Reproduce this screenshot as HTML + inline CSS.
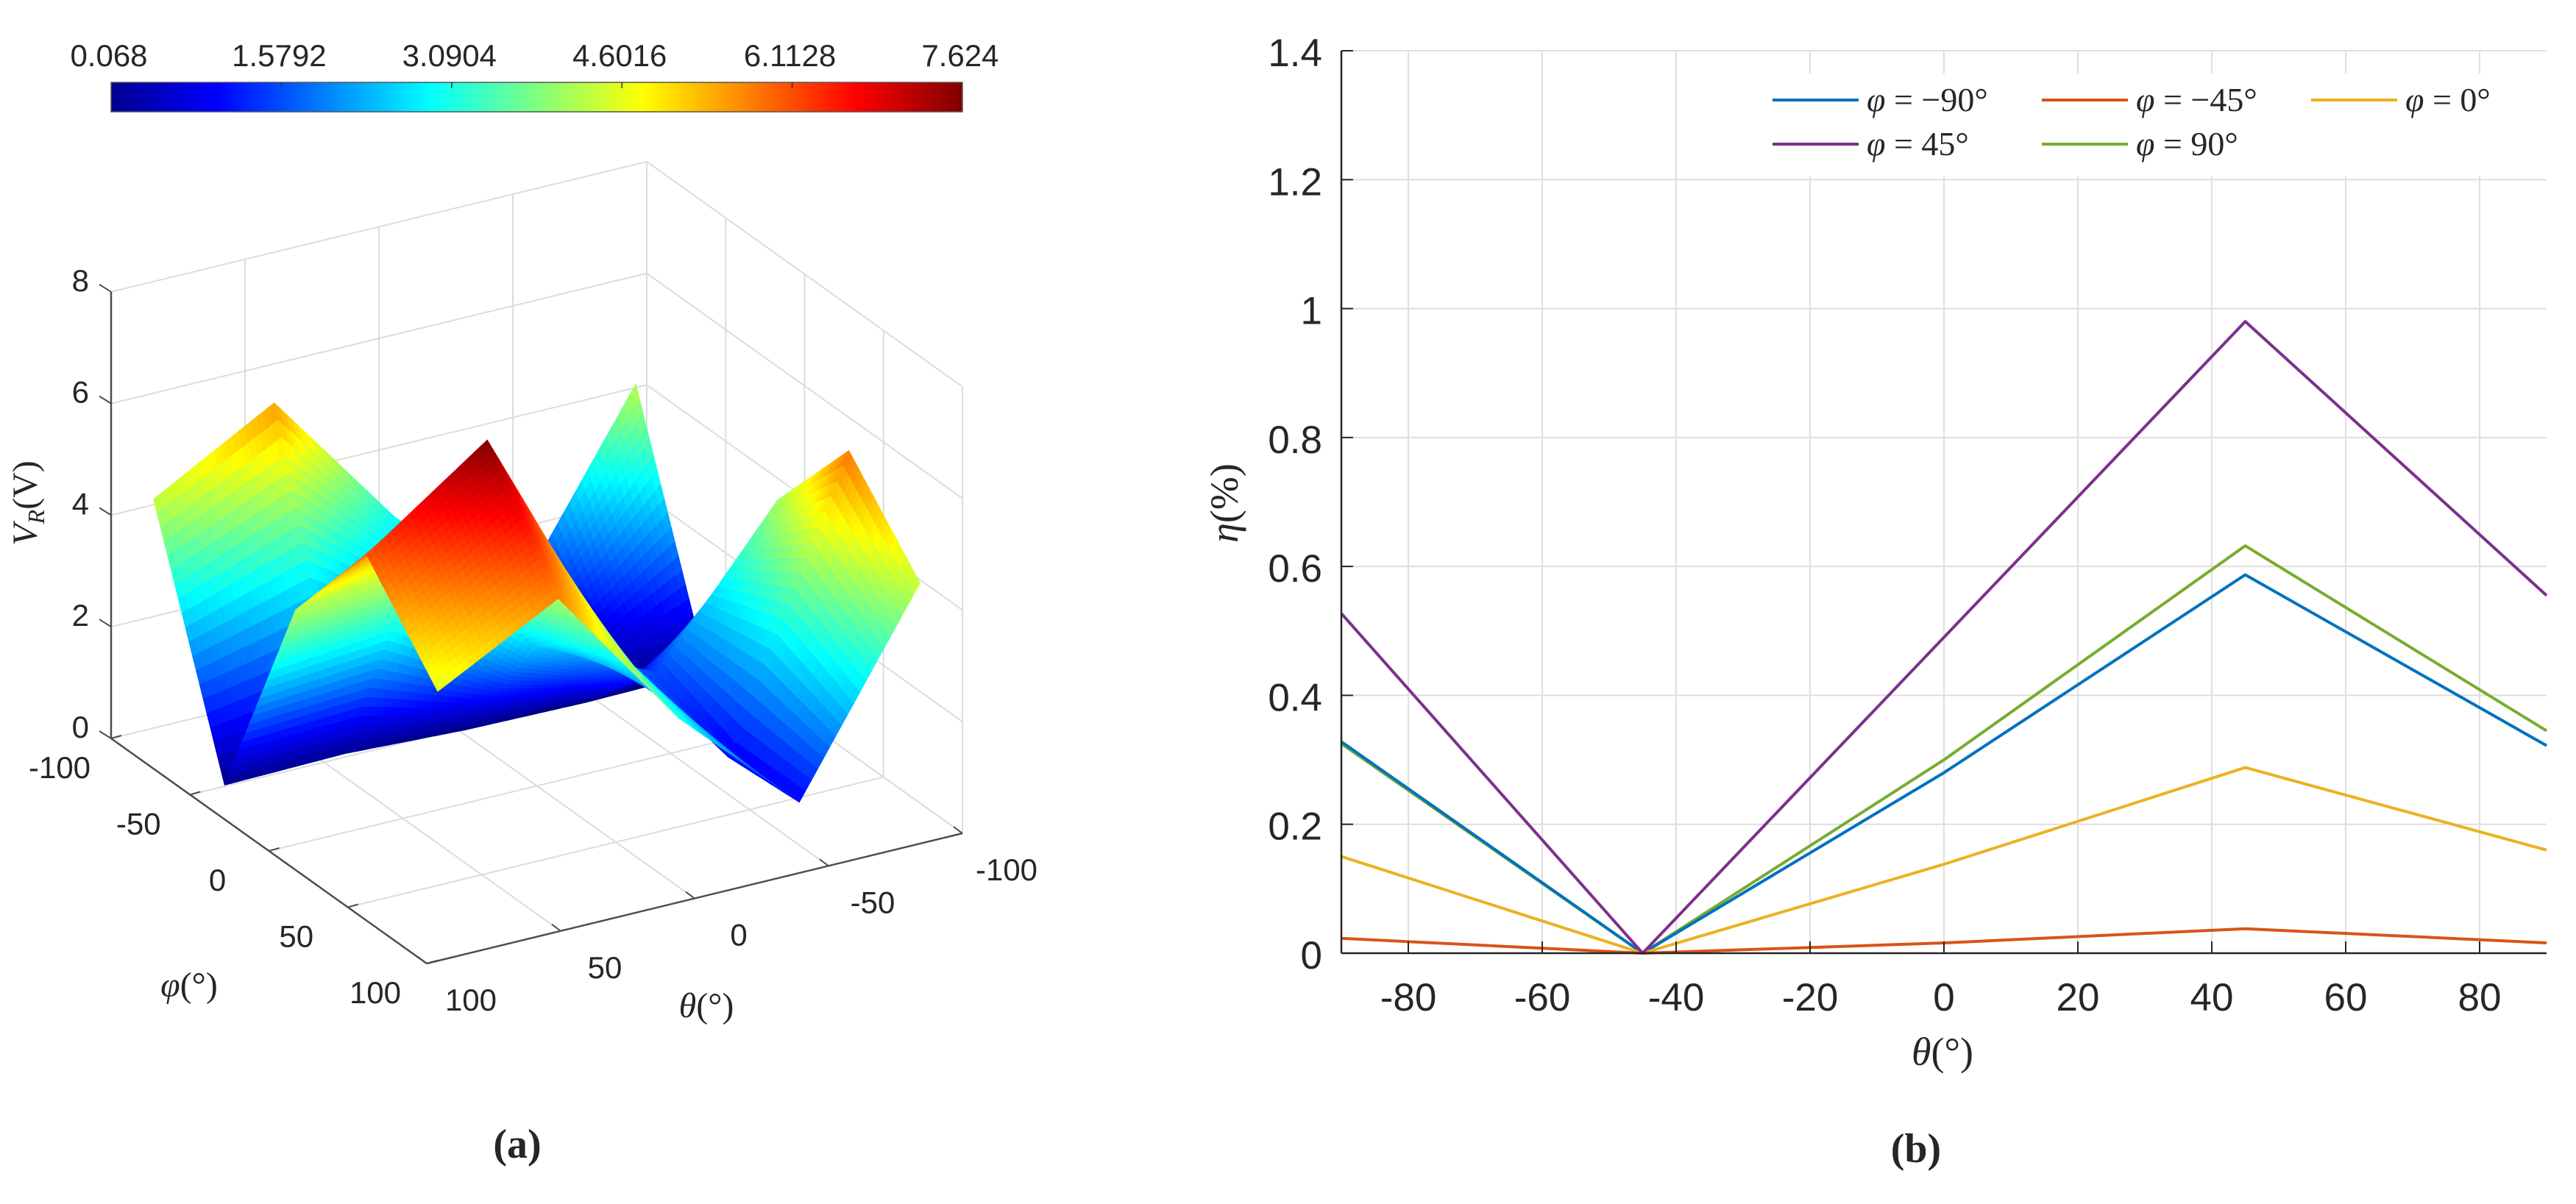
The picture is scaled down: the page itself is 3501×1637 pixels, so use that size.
<!DOCTYPE html>
<html><head><meta charset="utf-8"><style>
html,body{margin:0;padding:0;background:#fff;}
svg{display:block;}
text{font-family:"Liberation Sans",sans-serif;fill:#262626;}
.serif{font-family:"Liberation Serif",serif;}
</style></head><body>
<svg id="fig" width="3501" height="1637" viewBox="0 0 3501 1637" xmlns="http://www.w3.org/2000/svg">
<defs>
<linearGradient id="jet" x1="0" x2="1" y1="0" y2="0">
<stop offset="0" stop-color="#00008f"/><stop offset="0.125" stop-color="#0000ff"/><stop offset="0.375" stop-color="#00ffff"/><stop offset="0.625" stop-color="#ffff00"/><stop offset="0.875" stop-color="#ff0000"/><stop offset="1" stop-color="#800000"/>
</linearGradient>
</defs>
<g id="panelA">
  <g id="cbar">
    <rect x="151" y="112" width="1157" height="40" fill="url(#jet)" stroke="#555" stroke-width="1.5"/>
  </g>
  <g id="grid3d"></g>
  <g id="surf"></g>
  <g id="axes3d"></g>
  <text x="50" y="684" font-size="48" class="serif" text-anchor="middle" transform="rotate(-90 50 684)"><tspan font-style="italic">V</tspan><tspan font-style="italic" font-size="32" dy="10">R</tspan><tspan dy="-10">(V)</tspan></text>
  <text x="257" y="1355" font-size="48" class="serif" text-anchor="middle"><tspan font-style="italic">φ</tspan>(°)</text>
  <text x="960" y="1383" font-size="48" class="serif" text-anchor="middle"><tspan font-style="italic">θ</tspan>(°)</text>
  <text x="703" y="1574" font-size="56" class="serif" text-anchor="middle" font-weight="bold">(a)</text>
</g>
<g id="panelB">
  <g id="gridB"></g>
  <g id="linesB"></g>
  <g id="axesB"></g>
  <g id="legend"></g>
  <text x="1682" y="684" font-size="54" class="serif" text-anchor="middle" transform="rotate(-90 1682 684)"><tspan font-style="italic">η</tspan>(%)</text>
  <text x="2640" y="1448" font-size="54" class="serif" text-anchor="middle"><tspan font-style="italic">θ</tspan>(°)</text>
  <text x="2604" y="1580" font-size="56" class="serif" text-anchor="middle" font-weight="bold">(b)</text>
</g>
</svg>
<script>
// ===== Panel (a) data =====
const thetaGrid = [-90, -45, 0, 45, 90];
const phiGrid = [-90, -45, 0, 45, 90];
// rows: theta, columns: phi
const vrRowM90 = [4.33, 0.10, 4.07, 5.86, 4.40];
const vrRowM45 = [1.00, 0.068, 1.50, 0.90, 1.00];
const vrRow0   = [3.00, 0.10, 2.50, 3.50, 3.03];
const vrRow45  = [5.57, 0.20, 4.50, 7.624, 5.70];
const vrRow90  = [4.37, 0.16, 4.20, 6.10, 4.56];
const vrRows = [vrRowM90, vrRowM45, vrRow0, vrRow45, vrRow90];
const cbarTicks = ["0.068", "1.5792", "3.0904", "4.6016", "6.1128", "7.624"];
const zTicks = [0, 2, 4, 6, 8];
const phiTicks = [-100, -50, 0, 50, 100];
const thetaTicks = [100, 50, 0, -50, -100];

// ===== Panel (b) data =====
const thetaB = [-90, -45, 0, 45, 90];
const etaPhiM90 = [0.328, 0, 0.28, 0.587, 0.322];
const etaPhiM45 = [0.023, 0, 0.016, 0.038, 0.016];
const etaPhi0 = [0.150, 0, 0.138, 0.288, 0.160];
const etaPhi45 = [0.527, 0, 0.490, 0.980, 0.555];
const etaPhi90 = [0.325, 0, 0.300, 0.632, 0.345];
const seriesNames = ["−90°", "−45°", "0°", "45°", "90°"];
const xTicksB = [-80, -60, -40, -20, 0, 20, 40, 60, 80];
const yTicksB = [0, 0.2, 0.4, 0.6, 0.8, 1, 1.2, 1.4];

const NS = "http://www.w3.org/2000/svg";
function mk(tag, attrs, parent) { const e = document.createElementNS(NS, tag); for (const k in attrs) e.setAttribute(k, attrs[k]); parent.appendChild(e); return e; }

// ---- 3D projection ----
const C0 = [729.5, 1068.5];
const PV = [2.145, 1.53], TV = [-3.64, 0.885], ZS = 75.9;
function proj(th, ph, z) { return [C0[0] + PV[0]*ph + TV[0]*th, C0[1] + PV[1]*ph + TV[1]*th - ZS*z]; }
function jet(t) {
  t = Math.max(0, Math.min(1, t));
  const c = v => Math.round(255*Math.max(0, Math.min(1, v)));
  return `rgb(${c(1.5-Math.abs(4*t-3))},${c(1.5-Math.abs(4*t-2))},${c(1.5-Math.abs(4*t-1))})`;
}
const zmin = 0.068, zmax = 7.624;

const g3 = document.getElementById('grid3d');
const GC = "#dcdcdc";
function line3(a, b, col, w, parent, name) {
  const p = proj(...a), q = proj(...b);
  const l = mk('line', {x1:p[0].toFixed(1), y1:p[1].toFixed(1), x2:q[0].toFixed(1), y2:q[1].toFixed(1), stroke:col, 'stroke-width':w}, parent);
  
  
  return l;
}
zTicks.forEach(z => {
  line3([100,-100,z], [-100,-100,z], GC, 2, g3, 'grid-line-z');
  line3([-100,-100,z], [-100,100,z], GC, 2, g3, 'grid-line-z');
});
[-50,0,50,-100].forEach(t => {
  line3([t,-100,0], [t,-100,8], GC, 2, g3, 'grid-line-theta-wall');
  line3([t,-100,0], [t,100,0], GC, 2, g3, 'grid-line-theta-floor');
});
[-50,0,50,100].forEach(p => {
  line3([-100,p,0], [-100,p,8], GC, 2, g3, 'grid-line-phi-wall');
  line3([-100,p,0], [100,p,0], GC, 2, g3, 'grid-line-phi-floor');
});

// surface
const sg = document.getElementById('surf');
const N = 20, quads = [];
for (let i = 0; i < thetaGrid.length-1; i++) for (let j = 0; j < phiGrid.length-1; j++) {
  const z00 = vrRows[i][j], z01 = vrRows[i][j+1], z10 = vrRows[i+1][j], z11 = vrRows[i+1][j+1];
  const t0 = thetaGrid[i], t1 = thetaGrid[i+1], p0 = phiGrid[j], p1 = phiGrid[j+1];
  const Z = (u, v) => z00*(1-u)*(1-v) + z10*u*(1-v) + z01*(1-u)*v + z11*u*v;
  for (let a = 0; a < N; a++) for (let b = 0; b < N; b++) {
    const us = [a/N, (a+1)/N], vs = [b/N, (b+1)/N];
    const pts = [[us[0],vs[0]],[us[1],vs[0]],[us[1],vs[1]],[us[0],vs[1]]].map(([u,v]) => proj(t0+(t1-t0)*u, p0+(p1-p0)*v, Z(u,v)));
    const uc = (a+0.5)/N, vc = (b+0.5)/N;
    const zc = Z(uc, vc);
    const depth = proj(t0+(t1-t0)*uc, p0+(p1-p0)*vc, 0)[1];
    quads.push({pts, zc, depth});
  }
}
quads.sort((a,b) => a.depth - b.depth);
quads.forEach(q => {
  const col = jet((q.zc - zmin)/(zmax - zmin));
  const pg = mk('polygon', {points: q.pts.map(p => p[0].toFixed(1)+','+p[1].toFixed(1)).join(' '), fill: col, stroke: col, 'stroke-width': 1.2, 'stroke-linejoin':'round'}, sg);
  
  
});

// 3D axes
const ax3 = document.getElementById('axes3d');
const AC = "#4d4d4d";
line3([100,-100,0], [100,-100,8], AC, 2.5, ax3, 'z-axis-line');
line3([100,-100,0], [100,100,0], AC, 2.5, ax3, 'phi-axis-line');
line3([100,100,0], [-100,100,0], AC, 2.5, ax3, 'theta-axis-line');
zTicks.forEach(z => {
  const p = proj(100,-100,z);
  const t = mk('line', {x1:p[0], y1:p[1], x2:p[0]-16, y2:p[1]-10, stroke:AC, 'stroke-width':2}, ax3);
   
  const tx = mk('text', {x:p[0]-30, y:p[1]-1, 'font-size':42, 'text-anchor':'end'}, ax3);
  tx.textContent = z;
   
});
phiTicks.forEach(ph => {
  const p = proj(100, ph, 0);
  const t = mk('line', {x1:p[0], y1:p[1], x2:p[0]+14, y2:p[1]-4, stroke:AC, 'stroke-width':2}, ax3);
   
  const tx = mk('text', {x:p[0]-70, y:p[1]+54, 'font-size':42, 'text-anchor':'middle'}, ax3);
  tx.textContent = ph;
   
});
thetaTicks.forEach(th => {
  const p = proj(th, 100, 0);
  const t = mk('line', {x1:p[0], y1:p[1], x2:p[0]-12, y2:p[1]-9, stroke:AC, 'stroke-width':2}, ax3);
   
  const tx = mk('text', {x:p[0]+60, y:p[1]+64, 'font-size':42, 'text-anchor':'middle'}, ax3);
  tx.textContent = th;
   
});

// colorbar ticks
const cb = document.getElementById('cbar');
cbarTicks.forEach((lab, k) => {
  const x = 151 + 1157*k/(cbarTicks.length-1);
  if (k > 0 && k < cbarTicks.length-1) {
    const t = mk('line', {x1:x, y1:112, x2:x, y2:120, stroke:'#333', 'stroke-width':1.5}, cb);
     
  }
  const tx = mk('text', {x:x-3, y:90, 'font-size':42, 'text-anchor':'middle'}, cb);
  tx.textContent = lab;
   
});

// ---- Panel (b) ----
const X0 = 1823, X1 = 3461, Y0 = 1296, Y1 = 69;
const sx = v => X0 + (v + 90)/180*(X1 - X0);
const sy = v => Y0 - v/1.4*(Y0 - Y1);
const gB = document.getElementById('gridB');
xTicksB.forEach(v => {
  const l = mk('line', {x1:sx(v), y1:Y1, x2:sx(v), y2:Y0, stroke:'#dedede', 'stroke-width':2}, gB);
   
});
yTicksB.forEach(v => {
  const l = mk('line', {x1:X0, y1:sy(v), x2:X1, y2:sy(v), stroke:'#dedede', 'stroke-width':2}, gB);
   
});
const colors = ["#0072BD", "#D95319", "#EDB120", "#7E2F8E", "#77AC30"];
const seriesData = [etaPhiM90, etaPhiM45, etaPhi0, etaPhi45, etaPhi90];
const lB = document.getElementById('linesB');
[4, 0, 2, 1, 3].forEach(k => {
  const pl = mk('polyline', {points: thetaB.map((t, i) => sx(t).toFixed(1)+','+sy(seriesData[k][i]).toFixed(1)).join(' '), fill:'none', stroke: colors[k], 'stroke-width':4, 'stroke-linejoin':'round'}, lB);
  
  
});
const aB = document.getElementById('axesB');
const xa = mk('line', {x1:X0, y1:Y0, x2:X1, y2:Y0, stroke:'#262626', 'stroke-width':2.5}, aB);
 
const ya = mk('line', {x1:X0, y1:Y0, x2:X0, y2:Y1, stroke:'#262626', 'stroke-width':2.5}, aB);
 
xTicksB.forEach(v => {
  const t = mk('line', {x1:sx(v), y1:Y0, x2:sx(v), y2:Y0-16, stroke:'#262626', 'stroke-width':2}, aB);
   
  const tx = mk('text', {x:sx(v), y:Y0+78, 'font-size':53, 'text-anchor':'middle'}, aB);
  tx.textContent = v;
   
});
yTicksB.forEach(v => {
  const t = mk('line', {x1:X0, y1:sy(v), x2:X0+16, y2:sy(v), stroke:'#262626', 'stroke-width':2}, aB);
   
  const tx = mk('text', {x:1797, y:sy(v)+21, 'font-size':53, 'text-anchor':'end'}, aB);
  tx.textContent = String(v);
   
});
// legend
const lg = document.getElementById('legend');
const bg = mk('rect', {x:2395, y:100, width:1040, height:140, fill:'#fff'}, lg);
 
const legPos = [[2409,136],[2775,136],[3141,136],[2409,196],[2775,196]];
seriesNames.forEach((nm, k) => {
  const [x, y] = legPos[k];
  const g = mk('g', {}, lg);
   
  mk('line', {x1:x, y1:y, x2:x+117, y2:y, stroke:colors[k], 'stroke-width':4}, g);
  const tx = mk('text', {x:x+128, y:y+15, 'font-size':46, class:'serif'}, g);
  tx.innerHTML = '<tspan font-style="italic">φ</tspan> = ' + nm;
});
</script>
</body></html>
